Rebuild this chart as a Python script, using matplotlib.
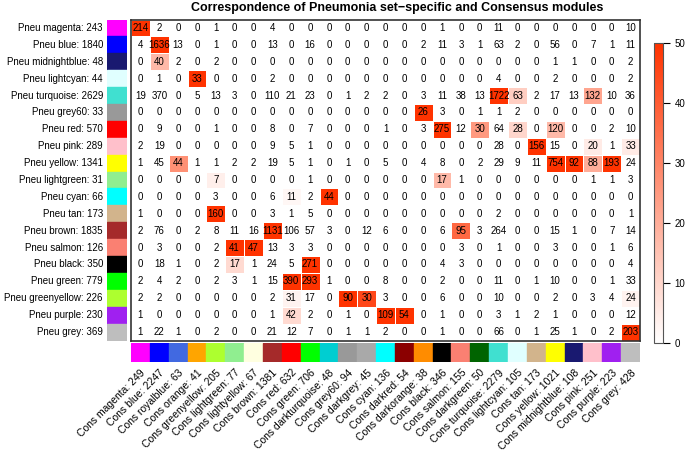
import numpy as np
import matplotlib.pyplot as plt
from matplotlib.colors import LinearSegmentedColormap

plt.rcParams['font.family'] = ['Liberation Sans', 'DejaVu Sans']

# Pneumonia (rows) modules
row_names = ["magenta", "blue", "midnightblue", "lightcyan", "turquoise", "grey60",
             "red", "pink", "yellow", "lightgreen", "cyan", "tan", "brown", "salmon",
             "black", "green", "greenyellow", "purple", "grey"]
row_sizes = [243, 1840, 48, 44, 2629, 33, 570, 289, 1341, 31, 66, 173, 1835, 126,
             350, 779, 226, 230, 369]

# Consensus (columns) modules
col_names = ["magenta", "blue", "royalblue", "orange", "greenyellow", "lightgreen",
             "lightyellow", "brown", "red", "green", "darkturquoise", "grey60",
             "darkgrey", "cyan", "darkred", "darkorange", "black", "salmon",
             "darkgreen", "turquoise", "lightcyan", "tan", "yellow", "midnightblue",
             "pink", "purple", "grey"]
col_sizes = [249, 2247, 63, 41, 205, 77, 67, 1381, 632, 706, 48, 94, 45, 136, 54,
             38, 346, 155, 50, 2279, 105, 173, 1021, 108, 251, 223, 428]

# R colour names -> hex
rcol = {"magenta": "#FF00FF", "blue": "#0000FF", "midnightblue": "#191970",
        "lightcyan": "#E0FFFF", "turquoise": "#40E0D0", "grey60": "#999999",
        "red": "#FF0000", "pink": "#FFC0CB", "yellow": "#FFFF00",
        "lightgreen": "#90EE90", "cyan": "#00FFFF", "tan": "#D2B48C",
        "brown": "#A52A2A", "salmon": "#FA8072", "black": "#000000",
        "green": "#00FF00", "greenyellow": "#ADFF2F", "purple": "#A020F0",
        "grey": "#BEBEBE", "royalblue": "#4169E1", "orange": "#FFA500",
        "lightyellow": "#FFFFE0", "darkturquoise": "#00CED1", "darkgrey": "#A9A9A9",
        "darkred": "#8B0000", "darkorange": "#FF8C00", "darkgreen": "#006400"}

# overlap counts
counts = [
    [214, 2, 0, 0, 1, 0, 0, 4, 0, 0, 0, 0, 0, 0, 0, 0, 1, 0, 0, 11, 0, 0, 0, 0, 0, 0, 10],
    [4, 1636, 13, 0, 1, 0, 0, 13, 0, 16, 0, 0, 0, 0, 0, 2, 11, 3, 1, 63, 2, 0, 56, 0, 7, 1, 11],
    [0, 40, 2, 0, 2, 0, 0, 0, 0, 0, 0, 0, 0, 0, 0, 0, 0, 0, 0, 0, 0, 0, 1, 1, 0, 0, 2],
    [0, 1, 0, 33, 0, 0, 0, 2, 0, 0, 0, 0, 0, 0, 0, 0, 0, 0, 0, 4, 0, 0, 2, 0, 0, 0, 2],
    [19, 370, 0, 5, 13, 3, 0, 110, 21, 23, 0, 1, 2, 2, 0, 3, 11, 38, 13, 1722, 63, 2, 17, 13, 132, 10, 36],
    [0, 0, 0, 0, 0, 0, 0, 0, 0, 0, 0, 0, 0, 0, 0, 26, 3, 0, 1, 1, 2, 0, 0, 0, 0, 0, 0],
    [0, 9, 0, 0, 1, 0, 0, 8, 0, 7, 0, 0, 0, 1, 0, 3, 275, 12, 30, 64, 28, 0, 120, 0, 0, 2, 10],
    [2, 19, 0, 0, 0, 0, 0, 9, 5, 1, 0, 0, 0, 0, 0, 0, 0, 0, 0, 28, 0, 156, 15, 0, 20, 1, 33],
    [1, 45, 44, 1, 1, 2, 2, 19, 5, 1, 0, 1, 0, 5, 0, 4, 8, 0, 2, 29, 9, 11, 754, 92, 88, 193, 24],
    [0, 0, 0, 0, 7, 0, 0, 0, 0, 1, 0, 0, 0, 0, 0, 0, 17, 1, 0, 0, 0, 0, 0, 0, 1, 1, 3],
    [0, 0, 0, 0, 3, 0, 0, 6, 11, 2, 44, 0, 0, 0, 0, 0, 0, 0, 0, 0, 0, 0, 0, 0, 0, 0, 0],
    [1, 0, 0, 0, 160, 0, 0, 3, 1, 5, 0, 0, 0, 0, 0, 0, 0, 0, 0, 2, 0, 0, 0, 0, 0, 0, 1],
    [2, 76, 0, 2, 8, 11, 16, 1131, 106, 57, 3, 0, 12, 6, 0, 0, 6, 95, 3, 264, 0, 0, 15, 1, 0, 7, 14],
    [0, 3, 0, 0, 2, 41, 47, 13, 3, 3, 0, 0, 0, 0, 0, 0, 0, 3, 0, 1, 0, 0, 3, 0, 0, 1, 6],
    [0, 18, 1, 0, 2, 17, 1, 24, 5, 271, 0, 0, 0, 0, 0, 0, 4, 3, 0, 0, 0, 0, 0, 0, 0, 0, 4],
    [2, 4, 2, 0, 2, 3, 1, 15, 390, 293, 1, 0, 0, 8, 0, 0, 2, 0, 0, 11, 0, 1, 10, 0, 0, 1, 33],
    [2, 2, 0, 0, 0, 0, 0, 2, 31, 17, 0, 90, 30, 3, 0, 0, 6, 0, 0, 10, 0, 0, 2, 0, 3, 4, 24],
    [1, 0, 0, 0, 0, 0, 0, 1, 42, 2, 0, 1, 0, 109, 54, 0, 1, 0, 0, 3, 1, 2, 1, 0, 0, 0, 12],
    [1, 22, 1, 0, 2, 0, 0, 21, 12, 7, 0, 1, 1, 2, 0, 0, 1, 0, 0, 66, 0, 1, 25, 1, 0, 2, 203],
]

# -log10(p) shown by colour (capped at 50); (row, col, value), everything else ~0
logp_cells = [
    (0, 0, 50), (1, 1, 50), (2, 1, 17), (3, 3, 50), (4, 19, 50), (4, 20, 12),
    (4, 24, 22), (5, 15, 50), (6, 16, 50), (6, 18, 25), (6, 20, 10), (6, 22, 17),
    (7, 21, 50), (7, 24, 5), (7, 26, 5), (8, 2, 27), (8, 22, 50), (8, 23, 50),
    (8, 24, 20), (8, 25, 50), (9, 4, 4), (9, 16, 17), (10, 8, 2), (10, 10, 50),
    (11, 4, 50), (12, 7, 50), (12, 17, 37), (13, 5, 50), (13, 6, 50), (14, 5, 9),
    (14, 9, 50), (15, 8, 50), (15, 9, 50), (16, 8, 3), (16, 11, 50), (16, 12, 45),
    (16, 26, 3), (17, 8, 9), (17, 13, 50), (17, 14, 50), (18, 26, 50),
]

counts = np.array(counts)
nr, nc = counts.shape
logp = np.zeros((nr, nc))
for r, c, v in logp_cells:
    logp[r, c] = v

cmap = LinearSegmentedColormap.from_list("wr", ["#FFFFFF", "#FF3300"])
fs = 7

fig = plt.figure(figsize=(6.85, 4.75), dpi=100)

# main heatmap
ax = fig.add_axes([131/685, 1-340.5/475, 509/685, 321/475])
mesh = ax.pcolormesh(np.arange(nc+1), np.arange(nr+1), logp, cmap=cmap, vmin=0, vmax=50,
                     edgecolor="white", linewidth=0.4)
ax.set_xlim(0, nc)
ax.set_ylim(nr, 0)
ax.set_xticks([])
ax.set_yticks([])
for s in ax.spines.values():
    s.set_linewidth(1.2)
    s.set_color("#333333")
for i in range(nr):
    for j in range(nc):
        ax.text(j+0.5, i+0.5, str(counts[i, j]), ha="center", va="center", fontsize=fs)

# row colour strip
axr = fig.add_axes([107/685, 1-340.5/475, 20/685, 321/475])
for i, n in enumerate(row_names):
    axr.add_patch(plt.Rectangle((0, i), 1, 1, color=rcol[n]))
    axr.text(-0.2, i+0.5, "Pneu %s: %d" % (n, row_sizes[i]), ha="right", va="center",
             fontsize=fs)
axr.set_xlim(0, 1)
axr.set_ylim(nr, 0)
axr.axis("off")

# column colour strip
axc = fig.add_axes([131/685, 1-362/475, 509/685, 19/475])
for j, n in enumerate(col_names):
    axc.add_patch(plt.Rectangle((j, 0), 1, 1, color=rcol[n]))
    axc.text(j+0.5, 1.3, "Cons %s: %d" % (n, col_sizes[j]), ha="right", va="top",
             rotation=45, rotation_mode="anchor", fontsize=7.5)
axc.set_xlim(0, nc)
axc.set_ylim(1, 0)
axc.axis("off")

# colour bar
cax = fig.add_axes([654/685, 1-343/475, 9/685, 300/475])
cb = fig.colorbar(mesh, cax=cax, ticks=[0, 10, 20, 30, 40, 50])
cb.ax.tick_params(labelsize=fs, length=5, width=0.8)
cb.outline.set_linewidth(0.8)
cb.outline.set_edgecolor("#555555")

fig.text(397/685, 1-8/475, "Correspondence of Pneumonia set\u2212specific and Consensus modules",
         ha="center", va="center", fontsize=9, fontweight="bold")

plt.savefig("out.png", dpi=100)
